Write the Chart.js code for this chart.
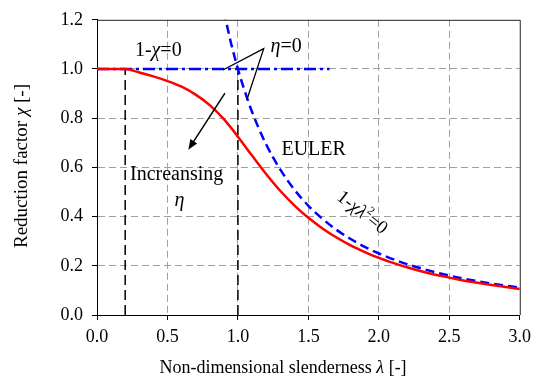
<!DOCTYPE html>
<html>
<head>
<meta charset="utf-8">
<script src="https://cdn.jsdelivr.net/npm/chart.js@4"></script>
<style>
  html, body { margin: 0; padding: 0; background: #fff; }
</style>
</head>
<body>
<canvas id="grafico" width="537" height="385"></canvas>
<script>
// Datos
const lambdaCurva = [0, 0.1, 0.2, 0.3, 0.4, 0.5, 0.6, 0.7, 0.8, 0.9, 1.0, 1.1, 1.2, 1.3, 1.4, 1.5,
                     1.6, 1.7, 1.8, 1.9, 2.0, 2.1, 2.2, 2.3, 2.4, 2.5, 2.6, 2.7, 2.8, 2.9, 3.0];
const chiCurva = [1, 1, 1, 0.986, 0.970, 0.951, 0.928, 0.896, 0.853, 0.796, 0.725, 0.648, 0.573, 0.505, 0.446, 0.395,
                  0.352, 0.315, 0.283, 0.256, 0.232, 0.212, 0.194, 0.178, 0.164, 0.152, 0.140, 0.131, 0.122, 0.114, 0.106];

const lambdaEuler = [0.9, 0.95, 1.0, 1.05, 1.1, 1.2, 1.3, 1.4, 1.5, 1.6, 1.7, 1.8, 1.9, 2.0, 2.2, 2.4, 2.6, 2.8, 3.0];
const chiEuler = [1.235, 1.108, 1.0, 0.907, 0.826, 0.694, 0.592, 0.510, 0.444, 0.391, 0.346, 0.309, 0.277, 0.250,
                  0.207, 0.174, 0.148, 0.128, 0.111];

const lambdaMeseta = [0, 1.65];
const chiMeseta = [1, 1];

const lambdaLimite1 = [0.2, 0.2];
const lambdaLimite2 = [1.0, 1.0];
const chiLimite = [0, 1];

const ticksX = [0, 0.5, 1.0, 1.5, 2.0, 2.5, 3.0];
const ticksY = [0, 0.2, 0.4, 0.6, 0.8, 1.0, 1.2];

const fuente = '"Liberation Serif", "Times New Roman", serif';

function puntos(xs, ys) {
    return xs.map((x, i) => ({ x: x, y: ys[i] }));
}

// dibuja texto con partes en cursiva / superindice: [texto, cursiva, superindice]
function textoRico(ctx, partes, x, y, size, align) {
    let ancho = 0;
    partes.forEach(p => {
        ctx.font = (p[1] ? 'italic ' : '') + (p[2] ? size * 0.62 : size) + 'px ' + fuente;
        ancho += ctx.measureText(p[0]).width;
    });
    let cx = align === 'center' ? x - ancho / 2 : x;
    ctx.textBaseline = 'middle';
    ctx.textAlign = 'left';
    ctx.fillStyle = '#000';
    partes.forEach(p => {
        ctx.font = (p[1] ? 'italic ' : '') + (p[2] ? size * 0.62 : size) + 'px ' + fuente;
        ctx.fillText(p[0], cx, p[2] ? y - size * 0.35 : y);
        cx += ctx.measureText(p[0]).width;
    });
}

const anotaciones = {
    id: 'anotaciones',
    afterDatasetsDraw(chart) {
        const ctx = chart.ctx;
        const sx = chart.scales.x, sy = chart.scales.y;
        const px = v => sx.getPixelForValue(v);
        const py = v => sy.getPixelForValue(v);
        const area = chart.chartArea;

        ctx.save();
        // marco superior y derecho
        ctx.strokeStyle = '#222';
        ctx.lineWidth = 1;
        ctx.beginPath();
        ctx.moveTo(area.left, area.top + 0.5);
        ctx.lineTo(area.right + 0.5, area.top + 0.5);
        ctx.lineTo(area.right + 0.5, area.bottom);
        ctx.stroke();

        // lineas que senalan eta = 0
        ctx.strokeStyle = '#000';
        ctx.lineWidth = 1.3;
        ctx.beginPath();
        ctx.moveTo(px(0.894), py(0.996));
        ctx.lineTo(px(1.183), py(1.083));
        ctx.lineTo(px(1.063), py(0.874));
        ctx.stroke();

        // flecha "increansing"
        const x1 = px(0.908), y1 = py(0.902), x2 = px(0.648), y2 = py(0.672);
        const ang = Math.atan2(y2 - y1, x2 - x1);
        ctx.lineWidth = 1.5;
        ctx.beginPath();
        ctx.moveTo(x1, y1);
        ctx.lineTo(x2 - 6 * Math.cos(ang), y2 - 6 * Math.sin(ang));
        ctx.stroke();
        ctx.fillStyle = '#000';
        ctx.beginPath();
        ctx.moveTo(x2, y2);
        ctx.lineTo(x2 - 10 * Math.cos(ang) + 4 * Math.sin(ang), y2 - 10 * Math.sin(ang) - 4 * Math.cos(ang));
        ctx.lineTo(x2 - 10 * Math.cos(ang) - 4 * Math.sin(ang), y2 - 10 * Math.sin(ang) + 4 * Math.cos(ang));
        ctx.closePath();
        ctx.fill();

        // textos
        textoRico(ctx, [['1-'], ['χ', true], ['=0']], px(0.269), py(1.075), 20, 'left');
        textoRico(ctx, [['η', true], ['=0']], px(1.232), py(1.091), 20, 'left');
        textoRico(ctx, [['EULER']], px(1.309), py(0.672), 20, 'left');
        textoRico(ctx, [['Increansing']], px(0.234), py(0.572), 20, 'left');
        textoRico(ctx, [['η', true]], px(0.55), py(0.463), 20, 'left');

        ctx.save();
        ctx.translate(px(1.88), py(0.415));
        ctx.rotate(38 * Math.PI / 180);
        textoRico(ctx, [['1-'], ['χλ', true], ['2', false, true], ['=0']], 0, 0, 19, 'center');
        ctx.restore();

        // titulos de ejes
        textoRico(ctx, [['Non-dimensional slenderness '], ['λ', true], [' [-]']], 283, 368, 18, 'center');
        ctx.save();
        ctx.translate(22, 166);
        ctx.rotate(-Math.PI / 2);
        textoRico(ctx, [['Reduction factor '], ['χ', true], [' [-]']], 0, 0, 19, 'center');
        ctx.restore();

        ctx.restore();
    }
};

const rejilla = {
    color: ctx => {
        const s = ctx.scale;
        if (ctx.tick && (ctx.tick.value === s.min || ctx.tick.value === s.max)) return 'rgba(0,0,0,0)';
        return '#a0a0a0';
    },
    lineWidth: 1,
    tickColor: '#000',
    tickLength: 5,
    tickWidth: 1
};

new Chart(document.getElementById('grafico'), {
    type: 'scatter',
    data: {
        datasets: [
            {
                label: 'chi',
                data: puntos(lambdaCurva, chiCurva),
                showLine: true,
                borderColor: '#ff0000',
                borderWidth: 2.5,
                pointRadius: 0,
                cubicInterpolationMode: 'monotone'
            },
            {
                label: 'Euler',
                data: puntos(lambdaEuler, chiEuler),
                showLine: true,
                borderColor: '#0000ff',
                borderWidth: 2.5,
                borderDash: [9, 5],
                pointRadius: 0,
                cubicInterpolationMode: 'monotone'
            },
            {
                label: '1-chi=0',
                data: puntos(lambdaMeseta, chiMeseta),
                showLine: true,
                borderColor: '#0000ff',
                borderWidth: 2.5,
                borderDash: [12, 4, 3, 4],
                pointRadius: 0
            },
            {
                label: 'lim1',
                data: puntos(lambdaLimite1, chiLimite),
                showLine: true,
                borderColor: '#000',
                borderWidth: 1.5,
                borderDash: [10, 5],
                pointRadius: 0
            },
            {
                label: 'lim2',
                data: puntos(lambdaLimite2, chiLimite),
                showLine: true,
                borderColor: '#000',
                borderWidth: 1.5,
                borderDash: [10, 5],
                pointRadius: 0
            }
        ]
    },
    options: {
        responsive: false,
        animation: false,
        layout: { padding: { top: 17, right: 14, left: 0, bottom: 0 } },
        plugins: {
            legend: { display: false },
            tooltip: { enabled: false }
        },
        scales: {
            x: {
                type: 'linear',
                min: 0,
                max: 3,
                afterBuildTicks: s => { s.ticks = ticksX.map(v => ({ value: v })); },
                afterFit: s => { s.height = 70; },
                grid: rejilla,
                border: { color: '#000', width: 1, dash: [7, 4] },
                ticks: {
                    color: '#000',
                    padding: 6,
                    maxRotation: 0,
                    font: { family: fuente, size: 18 },
                    callback: v => v.toFixed(1)
                }
            },
            y: {
                type: 'linear',
                min: 0,
                max: 1.2,
                afterBuildTicks: s => { s.ticks = ticksY.map(v => ({ value: v })); },
                afterFit: s => { s.width = 97; },
                grid: rejilla,
                border: { color: '#000', width: 1, dash: [7, 4] },
                ticks: {
                    color: '#000',
                    padding: 9,
                    font: { family: fuente, size: 18 },
                    callback: v => v.toFixed(1)
                }
            }
        }
    },
    plugins: [anotaciones]
});
</script>
</body>
</html>
